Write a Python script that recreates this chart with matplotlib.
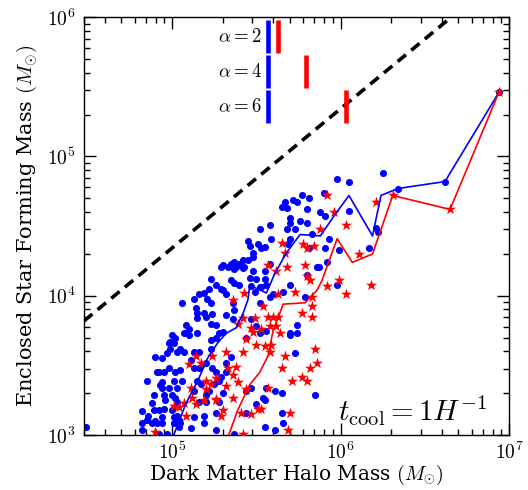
import numpy as np
import matplotlib
matplotlib.use("Agg")
import matplotlib.pyplot as plt
from matplotlib.ticker import LogLocator, FuncFormatter, NullFormatter

plt.rcParams["font.family"] = "DejaVu Serif"
plt.rcParams["mathtext.fontset"] = "cm"

# ---- halo sample: log10 of halo mass and enclosed star-forming mass (Msun) ----
# t_cool = 1/H, alpha = 2 criterion (blue dots)
blue_log_mhalo = [
    6.25, 5.98, 6.05, 5.90, 5.77, 5.81, 5.72, 5.74, 5.67, 5.65, 5.68, 5.80, 5.88, 6.05, 5.91,
    5.70, 5.76, 5.70, 5.80, 5.58, 5.52, 5.68, 5.73, 6.21, 6.22, 5.83, 5.93, 5.59, 5.70, 5.45,
    5.46, 5.51, 5.55, 5.53, 5.69, 5.81, 5.91, 5.99, 6.17, 5.48, 5.48, 5.45, 5.42, 5.37, 5.35,
    5.30, 5.29, 5.33, 5.38, 5.40, 5.43, 5.37, 5.42, 5.48, 5.55, 5.58, 5.86, 5.87, 5.92, 5.23,
    5.35, 5.37, 5.40, 5.46, 5.50, 5.55, 5.26, 5.22, 5.19, 5.29, 5.32, 5.47, 5.53, 5.49, 5.58,
    5.60, 5.70, 5.13, 5.80, 5.98, 5.79, 5.66, 5.56, 5.06, 5.16, 5.21, 5.23, 5.14, 5.15, 5.15,
    5.19, 5.20, 5.24, 5.23, 5.26, 5.32, 5.08, 5.10, 5.07, 5.10, 5.15, 5.00, 5.02, 4.99, 5.01,
    4.99, 5.05, 5.03, 5.07, 4.94, 4.98, 5.05, 4.92, 4.95, 5.02, 4.94, 5.01, 5.06, 4.85, 4.94,
    4.98, 5.03, 5.00, 5.02, 4.95, 4.89, 4.88, 4.96, 5.03, 4.89, 4.95, 5.00, 5.01, 5.03, 5.04,
    4.94, 4.86, 4.82, 4.88, 4.94, 5.01, 5.05, 5.04, 4.82, 5.15, 5.13, 5.16, 5.20, 5.19, 5.13,
    5.17, 5.13, 5.16, 5.13, 5.16, 5.11, 5.23, 5.23, 5.26, 5.28, 5.30, 5.20, 5.24, 5.26, 5.28,
    5.29, 5.25, 5.30, 5.22, 5.20, 5.28, 5.26, 5.32, 5.32, 5.35, 5.56, 5.61, 5.65, 5.54, 5.74,
    5.70, 5.52, 5.65, 5.55, 5.61, 5.66, 5.85, 4.49, 4.82, 4.91, 5.11, 5.19, 5.26, 5.37, 4.85,
    5.44, 5.47, 5.55, 5.50, 5.44, 5.73, 5.74, 5.70, 5.52, 5.47, 5.50, 5.44, 5.52, 5.56, 5.36,
    5.37, 5.36, 5.30, 4.90, 4.90, 4.92, 4.93, 4.91, 4.97, 4.98, 4.92, 4.97, 6.34, 6.62, 6.94,
]
blue_log_mstar = [
    4.88, 4.84, 4.82, 4.74, 4.72, 4.70, 4.69, 4.67, 4.67, 4.64, 4.63, 4.62, 4.60, 4.61, 4.57,
    4.56, 4.54, 4.52, 4.52, 4.51, 4.48, 4.48, 4.48, 4.49, 4.46, 4.44, 4.41, 4.41, 4.41, 4.39,
    4.36, 4.37, 4.35, 4.34, 4.37, 4.34, 4.34, 4.33, 4.34, 4.31, 4.28, 4.26, 4.26, 4.24, 4.23,
    4.22, 4.21, 4.21, 4.21, 4.23, 4.21, 4.19, 4.20, 4.18, 4.18, 4.23, 4.21, 4.21, 4.24, 4.12,
    4.11, 4.09, 4.08, 4.13, 4.12, 4.12, 4.08, 4.05, 4.02, 4.05, 4.01, 4.07, 4.06, 4.03, 3.99,
    4.01, 4.08, 3.98, 4.15, 4.08, 3.99, 4.03, 4.08, 3.95, 4.01, 3.98, 3.95, 3.91, 3.88, 3.84,
    3.88, 3.85, 3.87, 3.80, 3.79, 3.86, 3.79, 3.76, 3.73, 3.72, 3.73, 3.72, 3.70, 3.67, 3.66,
    3.62, 3.62, 3.60, 3.60, 3.55, 3.48, 3.47, 3.45, 3.45, 3.45, 3.38, 3.39, 3.39, 3.39, 3.34,
    3.34, 3.34, 3.29, 3.27, 3.29, 3.29, 3.23, 3.25, 3.24, 3.18, 3.19, 3.18, 3.13, 3.14, 3.11,
    3.13, 3.14, 3.17, 3.09, 3.09, 3.09, 3.09, 3.06, 3.09, 3.39, 3.32, 3.24, 3.24, 3.14, 3.13,
    3.37, 3.48, 3.48, 3.60, 3.60, 3.54, 3.62, 3.68, 3.70, 3.73, 3.74, 3.52, 3.48, 3.45, 3.39,
    3.42, 3.37, 3.30, 3.32, 3.29, 3.24, 3.16, 3.45, 3.52, 3.56, 3.34, 3.32, 3.30, 3.27, 3.73,
    3.73, 4.06, 3.16, 3.06, 3.04, 3.09, 3.29, 3.06, 3.04, 3.09, 3.05, 3.09, 3.04, 3.01, 3.11,
    3.32, 3.34, 3.25, 3.22, 3.16, 3.59, 3.79, 3.72, 3.95, 3.83, 3.78, 3.70, 3.73, 3.75, 3.83,
    3.90, 3.95, 4.04, 3.56, 3.10, 3.18, 3.36, 3.45, 3.59, 3.66, 3.01, 3.01, 4.77, 4.82, 5.46,
]

# alpha = 6 criterion (red stars)
red_log_mhalo = [
    5.92, 5.96, 6.21, 6.03, 5.88, 5.78, 5.84, 5.65, 5.67, 5.80, 6.11, 5.57, 5.62, 5.68, 5.79,
    5.82, 5.80, 5.92, 5.99, 6.03, 6.18, 5.73, 5.63, 5.43, 5.83, 5.36, 5.54, 5.77, 5.83, 5.83,
    5.57, 5.60, 5.63, 5.49, 5.42, 5.39, 5.58, 5.62, 5.48, 5.44, 5.50, 5.55, 5.64, 5.42, 5.58,
    5.67, 5.32, 5.24, 5.17, 5.10, 5.33, 5.38, 5.36, 5.39, 5.26, 5.20, 5.11, 5.12, 5.20, 5.26,
    5.36, 5.44, 5.57, 5.65, 5.71, 5.77, 5.80, 5.82, 5.86, 5.85, 5.30, 5.29, 5.41, 5.47, 5.51,
    5.53, 5.70, 5.01, 5.04, 5.07, 5.14, 5.08, 5.19, 5.26, 5.32, 4.90, 5.69, 5.42, 5.23, 5.14,
    5.59, 5.47, 5.53, 6.31, 6.65, 6.94,
]
red_log_mstar = [
    4.72, 4.60, 4.67, 4.51, 4.48, 4.37, 4.36, 4.38, 4.31, 4.34, 4.30, 4.22, 4.18, 4.21, 4.22,
    4.11, 4.14, 4.07, 4.11, 4.01, 4.08, 4.03, 4.01, 4.02, 3.99, 3.97, 3.93, 3.88, 3.93, 3.85,
    3.85, 3.85, 3.85, 3.84, 3.84, 3.80, 3.78, 3.78, 3.74, 3.69, 3.65, 3.64, 3.73, 3.60, 3.60,
    3.57, 3.60, 3.57, 3.52, 3.51, 3.48, 3.49, 3.43, 3.38, 3.41, 3.39, 3.34, 3.27, 3.33, 3.26,
    3.27, 3.33, 3.34, 3.48, 3.39, 3.42, 3.39, 3.48, 3.52, 3.62, 3.18, 3.14, 3.16, 3.15, 3.19,
    3.19, 3.16, 3.21, 3.20, 3.23, 3.22, 3.14, 3.25, 3.25, 3.35, 3.02, 3.04, 3.01, 3.37, 3.57,
    3.65, 3.77, 3.76, 4.72, 4.62, 5.46,
]

# binned medians
blue_med_log_mhalo = [5.00, 5.08, 5.16, 5.21, 5.27, 5.32, 5.38, 5.42, 5.45, 5.46, 5.49, 5.56,
                      5.61, 5.68, 5.76, 5.88, 5.96, 6.05, 6.19, 6.24, 6.34, 6.62, 6.94]
blue_med_log_mstar = [2.97, 3.22, 3.41, 3.55, 3.66, 3.73, 3.77, 3.87, 3.97, 4.06, 4.06, 4.02,
                      4.16, 4.31, 4.44, 4.43, 4.57, 4.72, 4.43, 4.72, 4.77, 4.82, 5.46]
red_med_log_mhalo = [5.33, 5.39, 5.46, 5.52, 5.57, 5.60, 5.66, 5.79, 5.86, 5.89, 5.98, 6.07,
                     6.19, 6.31, 6.65, 6.94]
red_med_log_mstar = [2.98, 3.18, 3.36, 3.45, 3.57, 3.75, 3.94, 3.95, 4.04, 4.11, 4.41, 4.24,
                     4.30, 4.72, 4.62, 5.46]

# reference relation M_sf = f * M_halo
baryon_frac = 0.22
halo_range = [3e4, 1e7]

# characteristic halo masses for each alpha
alphas = [2, 4, 6]
alpha_log_mhalo_blue = [5.567, 5.567, 5.567]
alpha_log_mhalo_red = [5.631, 5.798, 6.030]

xlim = (3e4, 1e7)
ylim = (1e3, 1e6)

fig = plt.figure(figsize=(5.28, 4.90), dpi=100)
ax = fig.add_axes([0.159, 0.112, 0.805, 0.853])
ax.set_xscale("log")
ax.set_yscale("log")

bx = np.power(10.0, blue_log_mhalo)
by = np.power(10.0, blue_log_mstar)
rx = np.power(10.0, red_log_mhalo)
ry = np.power(10.0, red_log_mstar)

ax.scatter(bx, by, s=26, c="#0000ff", marker="o", linewidths=0, zorder=2)
ax.scatter(rx, ry, s=70, c="#ff0000", marker="*", linewidths=0, zorder=3)

ax.plot(np.power(10.0, blue_med_log_mhalo), np.power(10.0, blue_med_log_mstar),
        color="#0000ff", lw=1.2, zorder=4)
ax.plot(np.power(10.0, red_med_log_mhalo), np.power(10.0, red_med_log_mstar),
        color="#ff0000", lw=1.2, zorder=4)

hx = np.array(halo_range)
ax.plot(hx, baryon_frac * hx, color="black", lw=2.6, ls=(0, (3.0, 1.9)), zorder=5)

# alpha markers
bands = [(0.914, 0.993), (0.830, 0.909), (0.746, 0.825)]
for a, lb, lr, (y0, y1) in zip(alphas, alpha_log_mhalo_blue, alpha_log_mhalo_red, bands):
    ax.axvline(10 ** lb, ymin=y0, ymax=y1, color="#0000ff", lw=3.3,
               solid_capstyle="butt", zorder=6)
    ax.axvline(10 ** lr, ymin=y0, ymax=y1, color="#ff0000", lw=3.3,
               solid_capstyle="butt", zorder=6)
    ax.text(0.418, 0.5 * (y0 + y1), r"$\alpha=%d$" % a, transform=ax.transAxes,
            ha="right", va="center", fontsize=13.5)

ax.text(0.948, 0.018, r"$t_{\rm cool}=1H^{-1}$", transform=ax.transAxes,
        ha="right", va="bottom", fontsize=21)

ax.set_xlim(*xlim)
ax.set_ylim(*ylim)

fmt = FuncFormatter(lambda v, p: r"$10^{%d}$" % int(round(np.log10(v))))
for axis in (ax.xaxis, ax.yaxis):
    axis.set_major_locator(LogLocator(base=10, numticks=20))
    axis.set_minor_locator(LogLocator(base=10, subs=np.arange(2, 10), numticks=20))
    axis.set_major_formatter(fmt)
    axis.set_minor_formatter(NullFormatter())

ax.tick_params(which="both", direction="in", top=True, right=True, width=1.0)
ax.tick_params(which="major", length=8.5, labelsize=14)
ax.tick_params(axis="x", which="major", pad=5)
ax.tick_params(axis="y", which="major", pad=6)
ax.tick_params(which="minor", length=4.5)
for sp in ax.spines.values():
    sp.set_linewidth(1.0)

ax.set_xlabel(r"Dark Matter Halo Mass $(M_{\odot})$", fontsize=14.5, labelpad=0)
ax.set_ylabel(r"Enclosed Star Forming Mass $(M_{\odot})$", fontsize=15, labelpad=6)

fig.savefig("out.png", dpi=100)
